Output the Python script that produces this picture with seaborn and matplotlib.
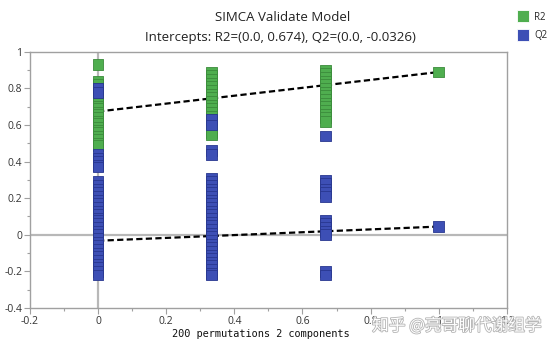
import matplotlib
matplotlib.use("Agg")
import matplotlib.pyplot as plt
import matplotlib.patheffects as pe
from matplotlib.ticker import MultipleLocator, FuncFormatter
import seaborn as sns
import pandas as pd

# ---- data -------------------------------------------------------------
perm_x = [0.0, 1/3, 2/3]

r2_x0 = [0.93, 0.84, 0.82, 0.80, 0.77, 0.75, 0.74, 0.72, 0.70, 0.69, 0.67,
         0.66, 0.64, 0.62, 0.61, 0.59, 0.57, 0.56, 0.54, 0.52, 0.50, 0.49]
q2_x0 = [0.80, 0.78, 0.44, 0.42, 0.40, 0.38, 0.37,
         0.29, 0.27, 0.25, 0.23, 0.21, 0.19, 0.17, 0.15, 0.13, 0.11,
         0.09, 0.08, 0.06, 0.04, 0.02, 0.00, -0.02, -0.04, -0.06, -0.08,
         -0.10, -0.12, -0.14, -0.16, -0.18, -0.20, -0.22]

r2_x1 = [0.89, 0.87, 0.85, 0.83, 0.81, 0.79, 0.77, 0.75, 0.73, 0.71, 0.69,
         0.67, 0.65, 0.63, 0.60, 0.58, 0.56, 0.55]
q2_x1 = [0.63, 0.60, 0.46, 0.44,
         0.31, 0.29, 0.27, 0.25, 0.23, 0.21, 0.19, 0.17, 0.15, 0.13, 0.11,
         0.09, 0.07, 0.05, 0.03, 0.01, -0.01, -0.03, -0.05, -0.07, -0.09,
         -0.11, -0.13, -0.15, -0.17, -0.19, -0.21, -0.22]

r2_x2 = [0.90, 0.88, 0.86, 0.84, 0.82, 0.80, 0.78, 0.76, 0.74, 0.72,
         0.70, 0.68, 0.66, 0.64, 0.62]
q2_x2 = [0.54, 0.30, 0.28, 0.25, 0.23, 0.21, 0.08, 0.06, 0.04, 0.02,
         0.00, -0.20, -0.22]

orig_x = 1.0
orig_r2 = 0.89
orig_q2 = 0.045

intercept_r2 = 0.674
intercept_q2 = -0.0326

title_lines = ["SIMCA Validate Model",
               "Intercepts: R2=(0.0, 0.674), Q2=(0.0, -0.0326)"]
xlabel = "200 permutations 2 components"
watermark = "知乎 @亮哥聊代谢组学"

# ---- build table ------------------------------------------------------
rows = []
for xv, vals in zip(perm_x + [orig_x], [r2_x0, r2_x1, r2_x2, [orig_r2]]):
    rows += [(xv, v, "R2") for v in vals]
for xv, vals in zip(perm_x + [orig_x], [q2_x0, q2_x1, q2_x2, [orig_q2]]):
    rows += [(xv, v, "Q2") for v in vals]
df = pd.DataFrame(rows, columns=["x", "y", "series"])

lines = pd.DataFrame({
    "x": [0.0, orig_x, 0.0, orig_x],
    "y": [intercept_r2, orig_r2, intercept_q2, orig_q2],
    "series": ["R2", "R2", "Q2", "Q2"],
})

# ---- plot -------------------------------------------------------------
sns.set_theme(style="white")
plt.rcParams["font.family"] = ["Open Sans", "DejaVu Sans"]

fig = plt.figure(figsize=(5.54, 3.46), dpi=100)
ax = fig.add_axes([0.054, 0.110, 0.861, 0.740])

grey = "#a0a0a0"
ax.axvline(0, color="#b8b8b8", lw=1.6, zorder=0)
ax.axhline(0, color="#b8b8b8", lw=1.6, zorder=0)

for s in ["R2", "Q2"]:
    sns.lineplot(data=lines[lines.series == s], x="x", y="y", ax=ax,
                 color="black", lw=1.6, linestyle=(0, (2.8, 1.5)),
                 legend=False, zorder=2)

palette = {"R2": "#4fae4f", "Q2": "#3d4fb5"}
edge_map = {"R2": "#3b8b3b", "Q2": "#28378f"}
sns.scatterplot(data=df, x="x", y="y", hue="series", palette=palette,
                marker="s", s=60, linewidth=0.6, ax=ax, zorder=3)
coll = ax.collections[-1]
coll.set_edgecolors([edge_map[s] for s in df.series])

ax.set_xlim(-0.2, 1.2)
ax.set_ylim(-0.4, 1.0)
ax.xaxis.set_major_locator(MultipleLocator(0.2))
ax.xaxis.set_minor_locator(MultipleLocator(0.1))
ax.yaxis.set_major_locator(MultipleLocator(0.2))
ax.yaxis.set_minor_locator(MultipleLocator(0.1))
fmt = FuncFormatter(lambda v, p: ("%g" % round(v, 2)) if abs(v) > 1e-9 else "0")
ax.xaxis.set_major_formatter(fmt)
ax.yaxis.set_major_formatter(fmt)
ax.tick_params(which="both", direction="out", color=grey, labelsize=7.5,
               labelcolor="#333333", bottom=True, left=True)
ax.tick_params(which="major", length=4, width=0.8, pad=1.5)
ax.tick_params(which="minor", length=2.5, width=0.8)
for sp in ax.spines.values():
    sp.set_color(grey)
    sp.set_linewidth(1.0)

ax.set_xlabel(xlabel, family="DejaVu Sans Mono", fontsize=7.4,
              color="#111111")
ax.xaxis.set_label_coords(0.484, -0.083)
ax.set_ylabel("")

fig.text(0.511, 0.948, title_lines[0], ha="center", va="center",
         fontsize=9.5, color="#222222")
fig.text(0.507, 0.892, title_lines[1], ha="center", va="center",
         fontsize=9.5, color="#222222")

sns.move_legend(ax, loc="upper left", bbox_to_anchor=(1.005, 1.172),
                frameon=False, title=None, fontsize=7, handletextpad=0.15,
                labelspacing=0.75, markerscale=1.15, borderaxespad=0)

fig.text(0.977, 0.058, watermark, ha="right", va="center", fontsize=12,
         family=["Noto Sans CJK SC", "DejaVu Sans"], color="white",
         path_effects=[pe.withStroke(linewidth=1.2, foreground="#b4b4b4")])

fig.savefig("out.png", dpi=100)
